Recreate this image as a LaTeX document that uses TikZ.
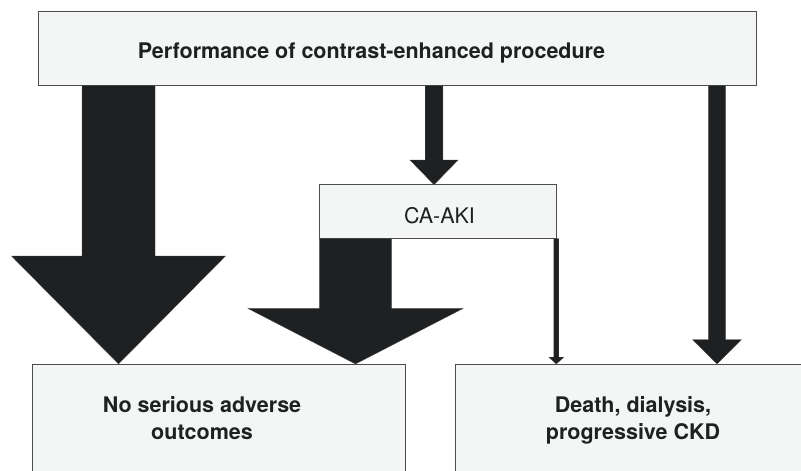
\documentclass[tikz,border=0pt]{standalone}
\usepackage{fontspec}
\setmainfont{TeX Gyre Heros}
\usetikzlibrary{calc}

\definecolor{boxfill}{HTML}{F4F6F5}
\definecolor{boxline}{HTML}{4D4D4D}
\definecolor{arrowfill}{HTML}{1F2022}

\tikzset{
  flowbox/.style={draw=boxline, fill=boxfill, line width=0.9pt, rectangle,
    inner sep=0pt, outer sep=0pt},
  boldlabel/.style={font=\fontsize{21.5}{27}\selectfont\bfseries, text=arrowfill,
    align=center, anchor=base, inner sep=0pt},
  plainlabel/.style={font=\fontsize{21.5}{27}\selectfont, text=arrowfill,
    anchor=base, inner sep=0pt},
  arrowbody/.style={fill=arrowfill, draw=arrowfill!80!white, line width=0.3pt},
}

% Block arrow pointing down: #1 start, #2 tip, #3 stem width,
% #4 head width, #5 head length
\newcommand\flowarrow[5]{%
  \filldraw[arrowbody] let \p1=#1, \p2=#2 in
    (\x1-#3/2,\y1) -- (\x1-#3/2,\y2+#5) -- (\x1-#4/2,\y2+#5) -- (\x1,\y2)
    -- (\x1+#4/2,\y2+#5) -- (\x1+#3/2,\y2+#5) -- (\x1+#3/2,\y1) -- cycle;}

\begin{document}
\begin{tikzpicture}[x=1pt,y=-1pt]
  \useasboundingbox (0,0) rectangle (801,471);
  \clip (0,0) rectangle (801,471);

  % boxes
  \node[flowbox, minimum width=718pt, minimum height=74.5pt] (top) at (397,48.25) {};
  \node[flowbox, minimum width=237pt, minimum height=54pt] (caaki) at (437.8,211.7) {};
  \node[flowbox, minimum width=373pt, minimum height=126pt] (nso) at (218.5,427) {};
  \node[flowbox, minimum width=360pt, minimum height=126pt] (ddc) at (635,427) {};

  % labels (base anchor sits on the last line)
  \node[boldlabel] (toptext) at (371.5,58) {Performance of contrast-enhanced procedure};
  \node[plainlabel] (caakitext) at (439.5,223.3) {CA-AKI};
  \node[boldlabel] (nsotext) at (202,439) {No serious adverse\\outcomes};
  \node[boldlabel] (ddctext) at (633,439) {Death, dialysis,\\progressive CKD};

  % arrows
  \flowarrow{(top.south -| 118.5,0)}{(nso.north -| 118.5,0)}{73pt}{214pt}{108pt}
  \flowarrow{(top.south -| 434,0)}{(caaki.north -| 434,0)}{17.7pt}{48.3pt}{24.7pt}
  \flowarrow{(top.south -| 717,0)}{(ddc.north -| 717,0)}{17.4pt}{48.7pt}{24.3pt}
  \flowarrow{(caaki.south -| 355.5,0)}{(nso.north -| 355.5,0)}{72.4pt}{215.4pt}{55.6pt}
  \flowarrow{(caaki.south east)}{(ddc.north -| caaki.south east)}{5pt}{15pt}{6.8pt}
\end{tikzpicture}
\end{document}
